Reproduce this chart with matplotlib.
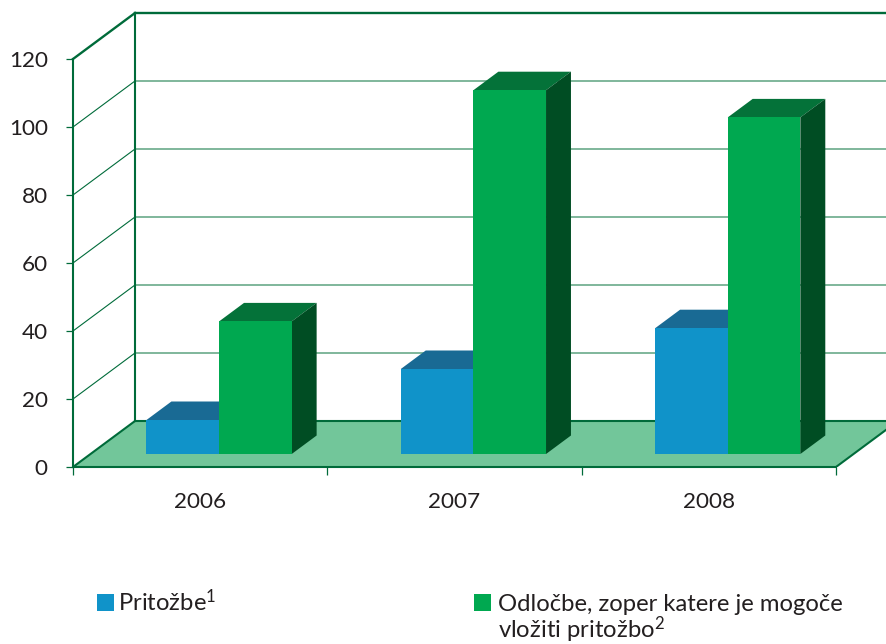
import matplotlib
matplotlib.use("Agg")
import matplotlib.pyplot as plt
from matplotlib.patches import Polygon, Rectangle

categories = ["2006", "2007", "2008"]
pritozbe = [10, 25, 37]
odlocbe = [39, 107, 99]
y_ticks = [0, 20, 40, 60, 80, 100, 120]
series_names = ["Pritožbe$^{1}$", "Odločbe, zoper katere je mogoče\nvložiti pritožbo$^{2}$"]

W, H = 887, 644
FS = 17.2
TICK_FS = 16.2
plt.rcParams["font.family"] = "Lato"
plt.rcParams["mathtext.fontset"] = "custom"
plt.rcParams["mathtext.rm"] = "Lato"
plt.rcParams["mathtext.default"] = "rm"

TXT = "#231f20"
LINE = "#006b3a"
GRID = "#6aaa8a"
BLUE, BLUE_TOP = "#1093c9", "#196a94"
GREEN, GREEN_TOP, GREEN_SIDE = "#00a850", "#047239", "#004d23"
FLOOR = "#72c69a"

fig = plt.figure(figsize=(W / 100, H / 100), dpi=100)
ax = fig.add_axes([73 / W, (H - 467) / H, (W - 73) / W, (467 - 13) / H])
ax.patch.set_visible(False)
unit_x, unit_y = 254.33, 3.4
ax.set_xlim(0, (W - 73) / unit_x)
ax.set_ylim(0, (467 - 13) / unit_y)

# oblique projection: depth 0 = front edge, depth 1 = back wall
DX, DY = 62 / unit_x, 46 / unit_y
def P(x, y, d=0.0):
    return (x + DX * d, y + DY * d)

# floor
ax.add_patch(Polygon([P(0, 0), P(3, 0), P(3, 0, 1), P(0, 0, 1)], fc=FLOOR, ec="none", zorder=1))
# floor edges
ax.plot(*zip(P(0, 0), P(0, 0, 1)), color=LINE, lw=1.5, zorder=2)
ax.plot(*zip(P(3, 0), P(3, 0, 1)), color=LINE, lw=1.5, zorder=2)
ax.plot(*zip(P(0, 0, 1), P(3, 0, 1)), color=LINE, lw=1.5, zorder=2)

# walls and grid
for v in y_ticks[1:-1]:
    ax.plot(*zip(P(0, v), P(0, v, 1)), color=LINE, lw=0.8, zorder=2)
    ax.plot(*zip(P(0, v, 1), P(3, v, 1)), color=GRID, lw=1.2, zorder=2)
top = y_ticks[-1]
ax.plot(*zip(P(0, top), P(0, top, 1)), color=LINE, lw=1.7, zorder=2, clip_on=False)
ax.plot(*zip(P(0, top, 1), P(3, top, 1)), color=LINE, lw=1.7, zorder=2, clip_on=False)
ax.plot(*zip(P(0, 0, 1), P(0, top, 1)), color=LINE, lw=1.5, zorder=2, clip_on=False)

# bars
D0, D1 = 13 / 46, 31.5 / 46
BAR_W, BAR_START = 0.2855, 0.22
z = 3
def bar(x0, v, front, topc, sidec):
    global z
    x1 = x0 + BAR_W
    ax.add_patch(Polygon([P(x0, v, D0), P(x1, v, D0), P(x1, v, D1), P(x0, v, D1)], fc=topc, ec="none", zorder=z))
    ax.add_patch(Polygon([P(x1, 0, D0), P(x1, v, D0), P(x1, v, D1), P(x1, 0, D1)], fc=sidec, ec="none", zorder=z))
    bx, by = P(x0, 0, D0)
    ax.add_patch(Rectangle((bx, by), BAR_W, v, fc=front, ec="none", zorder=z + 0.5))
    z += 1

for i in range(len(categories)):
    bar(i + BAR_START, pritozbe[i], BLUE, BLUE_TOP, BLUE_TOP)
    bar(i + BAR_START + BAR_W, odlocbe[i], GREEN, GREEN_TOP, GREEN_SIDE)

# axes
for s in ("top", "right"):
    ax.spines[s].set_visible(False)
ax.spines["left"].set_bounds(0, top)
ax.spines["bottom"].set_bounds(0, 3)
for s in ("left", "bottom"):
    ax.spines[s].set_color(LINE)
    ax.spines[s].set_linewidth(1.5)
    ax.spines[s].set_zorder(20)
ax.set_yticks(y_ticks)
ax.tick_params(axis="y", length=5.2, width=0.9, color=LINE, pad=13, labelsize=TICK_FS, labelcolor=TXT)
ax.set_xticks([0, 1, 2, 3])
ax.set_xticklabels([])
ax.set_xticks([i + 0.5 for i in range(len(categories))], categories, minor=True)
ax.tick_params(axis="x", which="major", length=5.5, width=0.9, color=LINE)
ax.tick_params(axis="x", which="minor", length=0, pad=18, labelsize=TICK_FS, labelcolor=TXT)

# legend
def px(x, y):
    return x / W, (H - y) / H
for (x, col) in ((97, BLUE), (474, GREEN)):
    fig.patches.append(Rectangle(px(x, 611), 17 / W, 17 / H, transform=fig.transFigure, fc=col, ec="none", figure=fig))
fig.text(*px(118, 611), series_names[0], fontsize=FS, color=TXT, va="baseline")
fig.text(*px(498, 611), series_names[1].split("\n")[0], fontsize=FS, color=TXT, va="baseline")
fig.text(*px(498, 638), series_names[1].split("\n")[1], fontsize=FS, color=TXT, va="baseline")

fig.savefig("out.png", dpi=100)
